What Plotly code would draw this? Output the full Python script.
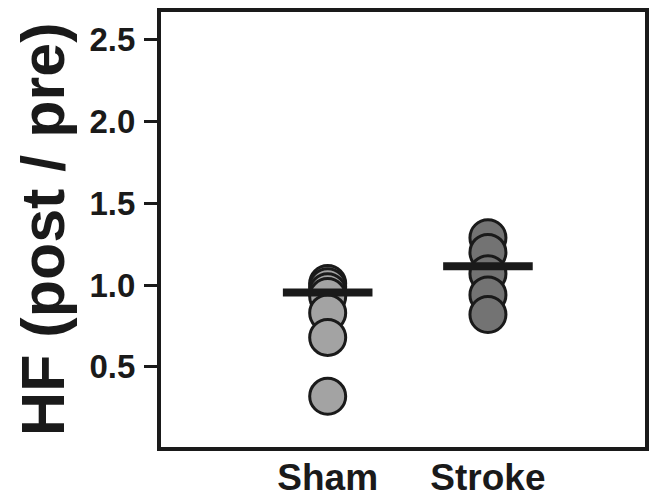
import plotly.graph_objects as go

categories = ["Sham", "Stroke"]
sham_values = [1.01, 0.99, 0.96, 0.93, 0.83, 0.68, 0.32]
stroke_values = [1.29, 1.20, 1.07, 0.94, 0.82]
group_means = [0.955, 1.115]
y_ticks = [0.5, 1.0, 1.5, 2.0, 2.5]
y_ticklabels = ["0.5", "1.0", "1.5", "2.0", "2.5"]

fig = go.Figure()

groups = [(sham_values, "#a3a3a3"), (stroke_values, "#737373")]
for i, (vals, col) in enumerate(groups):
    fig.add_trace(go.Scatter(
        x=[i] * len(vals), y=vals, mode="markers",
        marker=dict(size=36, color=col, line=dict(color="#1a1a1a", width=3)),
        showlegend=False, hoverinfo="y"))

fig.add_trace(go.Scatter(
    x=list(range(len(categories))), y=group_means, mode="markers",
    marker=dict(symbol="line-ew", size=64, line=dict(color="#1a1a1a", width=8)),
    showlegend=False, hoverinfo="y"))

fig.update_layout(
    width=652, height=501,
    margin=dict(l=161, r=7, t=12, b=54),
    plot_bgcolor="white", paper_bgcolor="white",
    font=dict(family="Liberation Sans, Arial, sans-serif", color="#1a1a1a"),
    xaxis=dict(range=[-1.04, 1.98], tickvals=list(range(len(categories))),
               ticktext=[f"<b>{c}</b>" for c in categories],
               tickfont=dict(size=37), showgrid=False, zeroline=False,
               showline=True, linecolor="#1a1a1a", linewidth=4, mirror=True,
               ticks="", ticklabelstandoff=-5, automargin=False),
    yaxis=dict(range=[0.01, 2.67], tickvals=y_ticks,
               ticktext=[f"<b>{t}</b>" for t in y_ticklabels],
               tickfont=dict(size=33), showgrid=False, zeroline=False,
               showline=True, linecolor="#1a1a1a", linewidth=4, mirror=True,
               ticks="outside", ticklen=13, tickwidth=3, tickcolor="#1a1a1a",
               ticklabelstandoff=2, automargin=False),
)

fig.add_annotation(text="<b>HF (post / pre)</b>", xref="paper", yref="paper",
                   x=-0.245, y=0.5, xanchor="center", yanchor="middle",
                   textangle=-90, showarrow=False,
                   font=dict(size=61, color="#1a1a1a"))

fig.write_html("out.html")
